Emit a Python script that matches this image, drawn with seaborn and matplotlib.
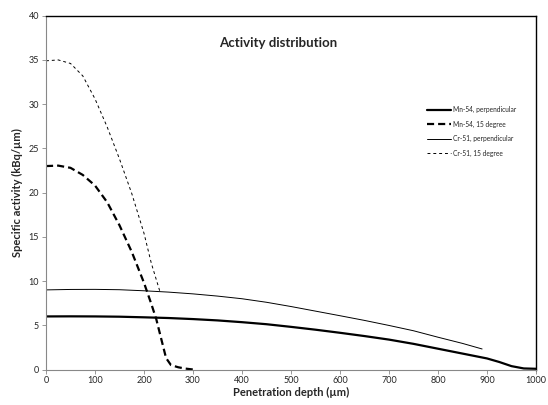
import matplotlib
matplotlib.use("Agg")
import matplotlib.pyplot as plt
import seaborn as sns
import pandas as pd

# ---- data ----
depth_perp_mn = [0, 50, 100, 150, 200, 250, 300, 350, 400, 450, 500, 550, 600,
                 650, 700, 750, 800, 850, 900, 925, 950, 975, 1000]
mn54_perp = [6.00, 6.01, 6.00, 5.97, 5.90, 5.82, 5.70, 5.55, 5.35, 5.12, 4.82,
             4.50, 4.15, 3.78, 3.38, 2.90, 2.35, 1.80, 1.25, 0.85, 0.38, 0.12, 0.08]

depth_perp_cr = [0, 50, 100, 150, 200, 250, 300, 350, 400, 450, 500, 550, 600,
                 650, 700, 750, 800, 850, 890]
cr51_perp = [9.00, 9.05, 9.06, 9.02, 8.90, 8.75, 8.55, 8.30, 8.00, 7.60, 7.12,
             6.60, 6.08, 5.55, 4.98, 4.38, 3.65, 2.95, 2.32]

depth_15_mn = [0, 25, 50, 75, 100, 125, 150, 175, 200, 215, 225, 235, 245,
               255, 270, 285, 300]
mn54_15 = [23.0, 23.05, 22.8, 22.0, 20.8, 18.9, 16.3, 13.3, 9.8, 7.4, 5.7, 3.5,
           1.3, 0.5, 0.25, 0.1, 0.0]

depth_15_cr = [0, 25, 50, 75, 100, 125, 150, 175, 200, 215, 232]
cr51_15 = [34.9, 35.0, 34.6, 33.2, 30.6, 27.4, 23.8, 19.9, 15.4, 12.0, 8.9]

series_names = ["Mn-54, perpendicular", "Mn-54, 15 degree",
                "Cr-51, perpendicular", "Cr-51, 15 degree"]

title_text = "Activity distribution"
x_label = "Penetration depth (\u00b5m)"
y_label = "Specific activity (kBq/\u00b5m)"
x_ticks = list(range(0, 1001, 100))
y_ticks = list(range(0, 41, 5))

# ---- plot ----
sns.set_style("white")
plt.rcParams["font.family"] = ["Lato", "DejaVu Sans"]

fig = plt.figure(figsize=(5.48, 4.05), dpi=100)
ax = fig.add_axes([46 / 548, 35.5 / 405, 490 / 548, 353.8 / 405])

styles = [
    (depth_perp_mn, mn54_perp, 1.6, None),
    (depth_15_mn, mn54_15, 1.6, (3.2, 1.8)),
    (depth_perp_cr, cr51_perp, 0.7, None),
    (depth_15_cr, cr51_15, 0.7, (3.0, 3.0)),
]
for (xs, ys, lw, dash), name in zip(styles, series_names):
    df = pd.DataFrame({"x": xs, "y": ys})
    sns.lineplot(data=df, x="x", y="y", ax=ax, color="black", linewidth=lw,
                 label=name, sort=False, estimator=None)
    line = ax.lines[-1]
    if dash is not None:
        line.set_linestyle((0, dash))

ax.set_xlim(0, 1000)
ax.set_ylim(0, 40)
ax.set_xticks(x_ticks)
ax.set_yticks(y_ticks)
ax.tick_params(axis="both", labelsize=6.5, length=3, width=0.6,
               direction="out", color="#888888", pad=2, bottom=True, left=True)
for side in ["left", "bottom"]:
    ax.spines[side].set_color("#888888")
    ax.spines[side].set_linewidth(0.8)
for side in ["top", "right"]:
    ax.spines[side].set_color("black")
    ax.spines[side].set_linewidth(1.0)

ax.set_xlabel(x_label, fontsize=8, fontweight="bold", labelpad=1)
ax.set_ylabel(y_label, fontsize=8, fontweight="bold", labelpad=4)

ax.text(473, 36.9, title_text, fontsize=9.5, fontweight="bold",
        ha="center", va="center")

leg = ax.legend(loc="center left", bbox_to_anchor=(0.778, 0.673),
                frameon=False, fontsize=4.8, handlelength=3.6,
                handletextpad=0.3, labelspacing=1.1, borderpad=0,
                borderaxespad=0)

fig.savefig("out.png", dpi=100)
